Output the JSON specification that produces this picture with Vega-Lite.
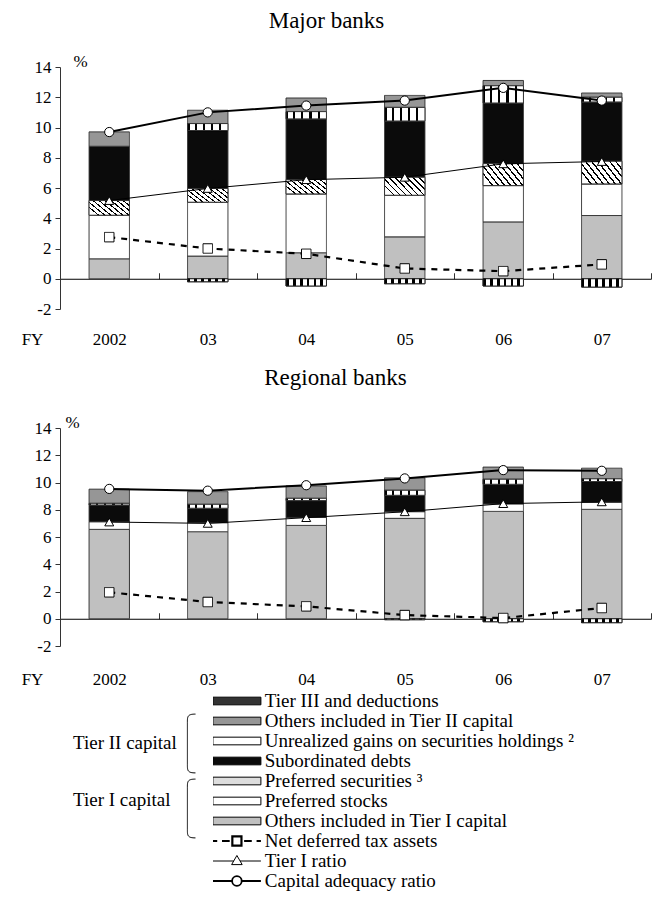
{
  "$schema": "https://vega.github.io/schema/vega-lite/v6.json",
  "padding": {"left": 21, "top": 10, "right": 0, "bottom": 0},
  "bounds": "flush",
  "spacing": 119,
  "config": {
    "font": "Liberation Serif",
    "view": {"stroke": null},
    "axis": {"labelFont": "Liberation Serif", "labelFontSize": 17, "labelColor": "#000", "titleFont": "Liberation Serif", "titleFontSize": 17, "titleFontWeight": "normal", "titleColor": "#000", "domainColor": "#333", "tickColor": "#333", "grid": false},
    "legend": {"labelFont": "Liberation Serif", "labelFontSize": 19, "labelColor": "#000", "labelLimit": 500},
    "title": {"font": "Liberation Serif", "fontSize": 23, "fontWeight": "normal", "color": "#000"}
  },
  "datasets": {
    "d": [
      {"b":"M","y":"2002","s":"Others included in Tier I capital","v":1.32,"k":1,"t":"Tier I capital"},
      {"b":"M","y":"2002","s":"Preferred stocks","v":2.88,"k":2,"t":"Tier I capital"},
      {"b":"M","y":"2002","s":"Preferred securities ³","v":0.97,"k":3,"t":"Tier I capital"},
      {"b":"M","y":"2002","s":"Subordinated debts","v":3.59,"k":4,"t":"Tier II capital"},
      {"b":"M","y":"2002","s":"Others included in Tier II capital","v":0.95,"k":6,"t":"Tier II capital"},
      {"b":"M","y":"2002","s":"Net deferred tax assets","v":2.75},
      {"b":"M","y":"2002","s":"Tier I ratio","v":5.17},
      {"b":"M","y":"2002","s":"Capital adequacy ratio","v":9.7},
      {"b":"M","y":"03","s":"Others included in Tier I capital","v":1.50,"k":1,"t":"Tier I capital"},
      {"b":"M","y":"03","s":"Preferred stocks","v":3.56,"k":2,"t":"Tier I capital"},
      {"b":"M","y":"03","s":"Preferred securities ³","v":0.91,"k":3,"t":"Tier I capital"},
      {"b":"M","y":"03","s":"Subordinated debts","v":3.83,"k":4,"t":"Tier II capital"},
      {"b":"M","y":"03","s":"Unrealized gains on securities holdings ²","v":0.46,"k":5,"t":"Tier II capital"},
      {"b":"M","y":"03","s":"Others included in Tier II capital","v":0.88,"k":6,"t":"Tier II capital"},
      {"b":"M","y":"03","s":"Tier III and deductions","v":-0.2,"k":7},
      {"b":"M","y":"03","s":"Net deferred tax assets","v":2.0},
      {"b":"M","y":"03","s":"Tier I ratio","v":5.97},
      {"b":"M","y":"03","s":"Capital adequacy ratio","v":11.0},
      {"b":"M","y":"04","s":"Others included in Tier I capital","v":1.72,"k":1,"t":"Tier I capital"},
      {"b":"M","y":"04","s":"Preferred stocks","v":3.89,"k":2,"t":"Tier I capital"},
      {"b":"M","y":"04","s":"Preferred securities ³","v":0.95,"k":3,"t":"Tier I capital"},
      {"b":"M","y":"04","s":"Subordinated debts","v":4.01,"k":4,"t":"Tier II capital"},
      {"b":"M","y":"04","s":"Unrealized gains on securities holdings ²","v":0.48,"k":5,"t":"Tier II capital"},
      {"b":"M","y":"04","s":"Others included in Tier II capital","v":0.90,"k":6,"t":"Tier II capital"},
      {"b":"M","y":"04","s":"Tier III and deductions","v":-0.48,"k":7},
      {"b":"M","y":"04","s":"Net deferred tax assets","v":1.65},
      {"b":"M","y":"04","s":"Tier I ratio","v":6.55},
      {"b":"M","y":"04","s":"Capital adequacy ratio","v":11.45},
      {"b":"M","y":"05","s":"Others included in Tier I capital","v":2.77,"k":1,"t":"Tier I capital"},
      {"b":"M","y":"05","s":"Preferred stocks","v":2.75,"k":2,"t":"Tier I capital"},
      {"b":"M","y":"05","s":"Preferred securities ³","v":1.19,"k":3,"t":"Tier I capital"},
      {"b":"M","y":"05","s":"Subordinated debts","v":3.72,"k":4,"t":"Tier II capital"},
      {"b":"M","y":"05","s":"Unrealized gains on securities holdings ²","v":0.90,"k":5,"t":"Tier II capital"},
      {"b":"M","y":"05","s":"Others included in Tier II capital","v":0.79,"k":6,"t":"Tier II capital"},
      {"b":"M","y":"05","s":"Tier III and deductions","v":-0.33,"k":7},
      {"b":"M","y":"05","s":"Net deferred tax assets","v":0.68},
      {"b":"M","y":"05","s":"Tier I ratio","v":6.71},
      {"b":"M","y":"05","s":"Capital adequacy ratio","v":11.78},
      {"b":"M","y":"06","s":"Others included in Tier I capital","v":3.76,"k":1,"t":"Tier I capital"},
      {"b":"M","y":"06","s":"Preferred stocks","v":2.40,"k":2,"t":"Tier I capital"},
      {"b":"M","y":"06","s":"Preferred securities ³","v":1.45,"k":3,"t":"Tier I capital"},
      {"b":"M","y":"06","s":"Subordinated debts","v":4.01,"k":4,"t":"Tier II capital"},
      {"b":"M","y":"06","s":"Unrealized gains on securities holdings ²","v":1.14,"k":5,"t":"Tier II capital"},
      {"b":"M","y":"06","s":"Others included in Tier II capital","v":0.35,"k":6,"t":"Tier II capital"},
      {"b":"M","y":"06","s":"Tier III and deductions","v":-0.48,"k":7},
      {"b":"M","y":"06","s":"Net deferred tax assets","v":0.5},
      {"b":"M","y":"06","s":"Tier I ratio","v":7.6},
      {"b":"M","y":"06","s":"Capital adequacy ratio","v":12.62},
      {"b":"M","y":"07","s":"Others included in Tier I capital","v":4.18,"k":1,"t":"Tier I capital"},
      {"b":"M","y":"07","s":"Preferred stocks","v":2.09,"k":2,"t":"Tier I capital"},
      {"b":"M","y":"07","s":"Preferred securities ³","v":1.50,"k":3,"t":"Tier I capital"},
      {"b":"M","y":"07","s":"Subordinated debts","v":3.92,"k":4,"t":"Tier II capital"},
      {"b":"M","y":"07","s":"Unrealized gains on securities holdings ²","v":0.31,"k":5,"t":"Tier II capital"},
      {"b":"M","y":"07","s":"Others included in Tier II capital","v":0.28,"k":6,"t":"Tier II capital"},
      {"b":"M","y":"07","s":"Tier III and deductions","v":-0.55,"k":7},
      {"b":"M","y":"07","s":"Net deferred tax assets","v":0.95},
      {"b":"M","y":"07","s":"Tier I ratio","v":7.75},
      {"b":"M","y":"07","s":"Capital adequacy ratio","v":11.78},
      {"b":"R","y":"2002","s":"Others included in Tier I capital","v":6.56,"k":1,"t":"Tier I capital"},
      {"b":"R","y":"2002","s":"Preferred stocks","v":0.56,"k":2,"t":"Tier I capital"},
      {"b":"R","y":"2002","s":"Subordinated debts","v":1.23,"k":4,"t":"Tier II capital"},
      {"b":"R","y":"2002","s":"Unrealized gains on securities holdings ²","v":0.12,"k":5,"t":"Tier II capital"},
      {"b":"R","y":"2002","s":"Others included in Tier II capital","v":1.04,"k":6,"t":"Tier II capital"},
      {"b":"R","y":"2002","s":"Net deferred tax assets","v":1.94},
      {"b":"R","y":"2002","s":"Tier I ratio","v":7.1},
      {"b":"R","y":"2002","s":"Capital adequacy ratio","v":9.53},
      {"b":"R","y":"03","s":"Others included in Tier I capital","v":6.39,"k":1,"t":"Tier I capital"},
      {"b":"R","y":"03","s":"Preferred stocks","v":0.66,"k":2,"t":"Tier I capital"},
      {"b":"R","y":"03","s":"Subordinated debts","v":1.06,"k":4,"t":"Tier II capital"},
      {"b":"R","y":"03","s":"Unrealized gains on securities holdings ²","v":0.29,"k":5,"t":"Tier II capital"},
      {"b":"R","y":"03","s":"Others included in Tier II capital","v":0.93,"k":6,"t":"Tier II capital"},
      {"b":"R","y":"03","s":"Net deferred tax assets","v":1.23},
      {"b":"R","y":"03","s":"Tier I ratio","v":7.0},
      {"b":"R","y":"03","s":"Capital adequacy ratio","v":9.4},
      {"b":"R","y":"04","s":"Others included in Tier I capital","v":6.85,"k":1,"t":"Tier I capital"},
      {"b":"R","y":"04","s":"Preferred stocks","v":0.59,"k":2,"t":"Tier I capital"},
      {"b":"R","y":"04","s":"Subordinated debts","v":1.23,"k":4,"t":"Tier II capital"},
      {"b":"R","y":"04","s":"Unrealized gains on securities holdings ²","v":0.17,"k":5,"t":"Tier II capital"},
      {"b":"R","y":"04","s":"Others included in Tier II capital","v":0.91,"k":6,"t":"Tier II capital"},
      {"b":"R","y":"04","s":"Net deferred tax assets","v":0.91},
      {"b":"R","y":"04","s":"Tier I ratio","v":7.42},
      {"b":"R","y":"04","s":"Capital adequacy ratio","v":9.8},
      {"b":"R","y":"05","s":"Others included in Tier I capital","v":7.37,"k":1,"t":"Tier I capital"},
      {"b":"R","y":"05","s":"Preferred stocks","v":0.49,"k":2,"t":"Tier I capital"},
      {"b":"R","y":"05","s":"Subordinated debts","v":1.20,"k":4,"t":"Tier II capital"},
      {"b":"R","y":"05","s":"Unrealized gains on securities holdings ²","v":0.37,"k":5,"t":"Tier II capital"},
      {"b":"R","y":"05","s":"Others included in Tier II capital","v":0.91,"k":6,"t":"Tier II capital"},
      {"b":"R","y":"05","s":"Tier III and deductions","v":-0.07,"k":7},
      {"b":"R","y":"05","s":"Net deferred tax assets","v":0.27},
      {"b":"R","y":"05","s":"Tier I ratio","v":7.85},
      {"b":"R","y":"05","s":"Capital adequacy ratio","v":10.3},
      {"b":"R","y":"06","s":"Others included in Tier I capital","v":7.88,"k":1,"t":"Tier I capital"},
      {"b":"R","y":"06","s":"Preferred stocks","v":0.55,"k":2,"t":"Tier I capital"},
      {"b":"R","y":"06","s":"Subordinated debts","v":1.44,"k":4,"t":"Tier II capital"},
      {"b":"R","y":"06","s":"Unrealized gains on securities holdings ²","v":0.37,"k":5,"t":"Tier II capital"},
      {"b":"R","y":"06","s":"Others included in Tier II capital","v":0.89,"k":6,"t":"Tier II capital"},
      {"b":"R","y":"06","s":"Tier III and deductions","v":-0.22,"k":7},
      {"b":"R","y":"06","s":"Net deferred tax assets","v":0.05},
      {"b":"R","y":"06","s":"Tier I ratio","v":8.45},
      {"b":"R","y":"06","s":"Capital adequacy ratio","v":10.91},
      {"b":"R","y":"07","s":"Others included in Tier I capital","v":8.03,"k":1,"t":"Tier I capital"},
      {"b":"R","y":"07","s":"Preferred stocks","v":0.52,"k":2,"t":"Tier I capital"},
      {"b":"R","y":"07","s":"Subordinated debts","v":1.52,"k":4,"t":"Tier II capital"},
      {"b":"R","y":"07","s":"Unrealized gains on securities holdings ²","v":0.20,"k":5,"t":"Tier II capital"},
      {"b":"R","y":"07","s":"Others included in Tier II capital","v":0.78,"k":6,"t":"Tier II capital"},
      {"b":"R","y":"07","s":"Tier III and deductions","v":-0.29,"k":7},
      {"b":"R","y":"07","s":"Net deferred tax assets","v":0.79},
      {"b":"R","y":"07","s":"Tier I ratio","v":8.58},
      {"b":"R","y":"07","s":"Capital adequacy ratio","v":10.86}
    ]
  },
  "vconcat": [
    {
      "title": {"text": "Major banks", "frame": "group", "offset": 1, "dx": -29, "baseline": "alphabetic", "anchor": "middle"},
      "width": 591,
      "height": 242,
      "data": {"name": "d"},
      "transform": [{"filter": "datum.b === 'M'"}],
      "encoding": {
        "x": {"field": "y", "type": "nominal", "sort": ["2002","03","04","05","06","07"],
              "scale": {"paddingInner": 0, "paddingOuter": 0},
              "axis": {"title": "FY", "offset": -30.25, "tickSize": -6, "tickBand": "extent", "labelPadding": 67, "labelBaseline": "middle", "labelAngle": 0, "domainColor": "#000", "tickColor": "#333", "titleX": -28, "titleY": 61, "titleAngle": 0, "titleAlign": "center", "titleBaseline": "middle"}},
        "y": {"field": "v", "type": "quantitative",
              "scale": {"domain": [-2, 14], "nice": false, "zero": false},
              "axis": {"values": [-2,0,2,4,6,8,10,12,14], "labelExpr": "replace(datum.label, '−', '-')", "tickSize": 5, "labelPadding": 4, "title": "%", "titleAngle": 0, "titleX": 20, "titleY": -1, "titleAlign": "center", "titleBaseline": "alphabetic"}}
      },
      "layer": [
        {
          "transform": [{"filter": "isValid(datum.k)"}],
          "mark": {"type": "bar", "width": {"band": 0.41}, "stroke": "#333", "strokeWidth": 1},
          "encoding": {
            "fill": {"field": "s", "type": "nominal",
              "scale": {
                "domain": ["Tier III and deductions","Others included in Tier II capital","Unrealized gains on securities holdings ²","Subordinated debts","Preferred securities ³","Preferred stocks","Others included in Tier I capital","Net deferred tax assets","Tier I ratio","Capital adequacy ratio"],
                "range": ["#333333","#969696","#ffffff","#0b0b0b","#dddddd","#ffffff","#c0c0c0","#ffffff","#ffffff","#ffffff"]
              },
              "legend": {
                "orient": "none", "legendX": 153, "legendY": 624.4, "direction": "vertical", "title": null, "padding": 0,
                "symbolSize": 2304, "symbolType": "M-1,-0.16H1V0.16H-1Z", "symbolStrokeColor": "#000", "symbolStrokeWidth": 1,
                "clipHeight": 19.2, "rowPadding": -1.65, "labelOffset": 18.4, "symbolOffset": 14.4,
                "encode": {"symbols": {"update": {
                  "shape": {"signal": "datum.value === 'Net deferred tax assets' ? 'M-1,0H-0.82M-0.62,0H-0.3M0.3,0H0.62M0.82,0H1M-0.19,-0.19H0.19V0.19H-0.19Z' : datum.value === 'Tier I ratio' ? 'M-1,0H-0.13M0.13,0H1M-0.22,0.15L0,-0.23L0.22,0.15Z' : datum.value === 'Capital adequacy ratio' ? 'M-1,0H-0.2M0.2,0H1M-0.2,0A0.2,0.2 0 1,1 0.2,0A0.2,0.2 0 1,1 -0.2,0Z' : 'M-1,-0.16H1V0.16H-1Z'"},
                  "strokeWidth": {"signal": "datum.value === 'Net deferred tax assets' ? 2.2 : datum.value === 'Capital adequacy ratio' ? 1.8 : 1"},
                  "stroke": {"value": "#000"},
                  "opacity": {"value": 1}
                }}}
              }
            },
            "strokeDash": {"field": "t", "type": "nominal",
              "scale": {"domain": ["Tier II capital", "Tier I capital"], "range": [[1, 0], [1, 0]]},
              "legend": {
                "orient": "none", "legendX": 96, "legendY": 646, "direction": "vertical", "title": null, "padding": 0,
                "symbolSize": 3600, "symbolType": "M0.3,-0.98C0.03,-0.98 0.03,-0.9 0.03,-0.7V0.7C0.03,0.9 0.03,0.98 0.3,0.98",
                "symbolFillColor": "transparent", "symbolStrokeColor": "#000", "symbolStrokeWidth": 1,
                "rowPadding": 2, "labelOffset": -144, "labelAlign": "left",
                "encode": {
                  "symbols": {"update": {"fill": {"value": "transparent"}, "stroke": {"value": "#000"}, "opacity": {"value": 1}}},
                  "labels": {"update": {"dy": {"signal": "datum.index === 1 ? -9 : -1"}}}
                }
              }
            },
            "order": {"field": "k", "type": "quantitative"}
          }
        },
        {
          "transform": [{"filter": "isValid(datum.k)"}, {"stack": "v", "groupby": ["y"], "sort": [{"field": "k", "order": "ascending"}], "as": ["v0", "v1"]}, {"filter": "datum.s === 'Tier III and deductions'"}],
          "mark": {"type": "bar", "width": {"band": 0.41}, "stroke": "#222", "strokeWidth": 1, "fill": {"gradient":"linear","x1":0,"y1":0,"x2":1,"y2":0,"stops":[{"offset":0,"color":"#000"},{"offset":0.07,"color":"#000"},{"offset":0.07,"color":"#fff"},{"offset":0.17,"color":"#fff"},{"offset":0.17,"color":"#000"},{"offset":0.24,"color":"#000"},{"offset":0.24,"color":"#fff"},{"offset":0.34,"color":"#fff"},{"offset":0.34,"color":"#000"},{"offset":0.41,"color":"#000"},{"offset":0.41,"color":"#fff"},{"offset":0.51,"color":"#fff"},{"offset":0.51,"color":"#000"},{"offset":0.58,"color":"#000"},{"offset":0.58,"color":"#fff"},{"offset":0.68,"color":"#fff"},{"offset":0.68,"color":"#000"},{"offset":0.75,"color":"#000"},{"offset":0.75,"color":"#fff"},{"offset":0.85,"color":"#fff"},{"offset":0.85,"color":"#000"},{"offset":0.92,"color":"#000"},{"offset":0.92,"color":"#fff"},{"offset":1,"color":"#fff"}]}},
          "encoding": {"y": {"field": "v1", "type": "quantitative"}, "y2": {"field": "v0"}}
        },
        {
          "transform": [{"filter": "isValid(datum.k)"}, {"stack": "v", "groupby": ["y"], "sort": [{"field": "k", "order": "ascending"}], "as": ["v0", "v1"]}, {"filter": "datum.s === 'Unrealized gains on securities holdings ²'"}],
          "mark": {"type": "bar", "width": {"band": 0.41}, "stroke": "#333", "strokeWidth": 1, "fill": {"gradient":"linear","x1":0,"y1":0,"x2":1,"y2":0,"stops":[{"offset":0,"color":"#000"},{"offset":0.05,"color":"#000"},{"offset":0.05,"color":"#fff"},{"offset":0.18,"color":"#fff"},{"offset":0.18,"color":"#000"},{"offset":0.23,"color":"#000"},{"offset":0.23,"color":"#fff"},{"offset":0.38,"color":"#fff"},{"offset":0.38,"color":"#000"},{"offset":0.43,"color":"#000"},{"offset":0.43,"color":"#fff"},{"offset":0.58,"color":"#fff"},{"offset":0.58,"color":"#000"},{"offset":0.63,"color":"#000"},{"offset":0.63,"color":"#fff"},{"offset":0.78,"color":"#fff"},{"offset":0.78,"color":"#000"},{"offset":0.83,"color":"#000"},{"offset":0.83,"color":"#fff"},{"offset":1,"color":"#fff"}]}},
          "encoding": {"y": {"field": "v1", "type": "quantitative"}, "y2": {"field": "v0"}}
        },
        {
          "transform": [{"filter": "isValid(datum.k)"}, {"stack": "v", "groupby": ["y"], "sort": [{"field": "k", "order": "ascending"}], "as": ["v0", "v1"]}, {"filter": "datum.s === 'Preferred securities ³'"}],
          "mark": {"type": "bar", "width": {"band": 0.41}, "stroke": "#333", "strokeWidth": 1, "fill": {"gradient":"linear","x1":0,"y1":0.72,"x2":1,"y2":0.28,"stops":[{"offset":0,"color":"#fff"},{"offset":0.08,"color":"#fff"},{"offset":0.08,"color":"#000"},{"offset":0.115,"color":"#000"},{"offset":0.115,"color":"#fff"},{"offset":0.205,"color":"#fff"},{"offset":0.205,"color":"#000"},{"offset":0.24,"color":"#000"},{"offset":0.24,"color":"#fff"},{"offset":0.33,"color":"#fff"},{"offset":0.33,"color":"#000"},{"offset":0.365,"color":"#000"},{"offset":0.365,"color":"#fff"},{"offset":0.455,"color":"#fff"},{"offset":0.455,"color":"#000"},{"offset":0.49,"color":"#000"},{"offset":0.49,"color":"#fff"},{"offset":0.58,"color":"#fff"},{"offset":0.58,"color":"#000"},{"offset":0.615,"color":"#000"},{"offset":0.615,"color":"#fff"},{"offset":0.705,"color":"#fff"},{"offset":0.705,"color":"#000"},{"offset":0.74,"color":"#000"},{"offset":0.74,"color":"#fff"},{"offset":0.83,"color":"#fff"},{"offset":0.83,"color":"#000"},{"offset":0.865,"color":"#000"},{"offset":0.865,"color":"#fff"},{"offset":0.955,"color":"#fff"},{"offset":0.955,"color":"#000"},{"offset":0.99,"color":"#000"},{"offset":0.99,"color":"#fff"},{"offset":1,"color":"#fff"}]}},
          "encoding": {"y": {"field": "v1", "type": "quantitative"}, "y2": {"field": "v0"}}
        },
        {
          "transform": [{"filter": "datum.s === 'Tier I ratio'"}],
          "mark": {"type": "line", "color": "#000", "strokeWidth": 1, "point": {"shape": "triangle-up", "filled": true, "fill": "#fff", "stroke": "#000", "strokeWidth": 1, "size": 80, "opacity": 1}}
        },
        {
          "transform": [{"filter": "datum.s === 'Net deferred tax assets'"}],
          "mark": {"type": "line", "color": "#000", "strokeWidth": 2.2, "strokeDash": [6, 6], "point": {"shape": "square", "filled": true, "fill": "#fff", "stroke": "#000", "strokeWidth": 1, "strokeDash": [1, 0], "size": 90, "opacity": 1}}
        },
        {
          "transform": [{"filter": "datum.s === 'Capital adequacy ratio'"}],
          "mark": {"type": "line", "color": "#000", "strokeWidth": 2, "point": {"shape": "circle", "filled": true, "fill": "#fff", "stroke": "#000", "strokeWidth": 1, "size": 85, "opacity": 1}}
        }
      ]
    },
    {
      "title": {"text": "Regional banks", "frame": "group", "offset": 5, "dx": -20, "baseline": "alphabetic", "anchor": "middle"},
      "width": 591,
      "height": 218,
      "data": {"name": "d"},
      "transform": [{"filter": "datum.b === 'R'"}],
      "encoding": {
        "x": {"field": "y", "type": "nominal", "sort": ["2002","03","04","05","06","07"],
              "scale": {"paddingInner": 0, "paddingOuter": 0},
              "axis": {"title": "FY", "offset": -27.25, "tickSize": -6, "tickBand": "extent", "labelPadding": 67, "labelBaseline": "middle", "labelAngle": 0, "domainColor": "#000", "tickColor": "#333", "titleX": -28, "titleY": 61, "titleAngle": 0, "titleAlign": "center", "titleBaseline": "middle"}},
        "y": {"field": "v", "type": "quantitative",
              "scale": {"domain": [-2, 14], "nice": false, "zero": false},
              "axis": {"values": [-2,0,2,4,6,8,10,12,14], "labelExpr": "replace(datum.label, '−', '-')", "tickSize": 5, "labelPadding": 4, "title": "%", "titleAngle": 0, "titleX": 12, "titleY": -1, "titleAlign": "center", "titleBaseline": "alphabetic"}}
      },
      "layer": [
        {
          "transform": [{"filter": "isValid(datum.k)"}],
          "mark": {"type": "bar", "width": {"band": 0.41}, "stroke": "#333", "strokeWidth": 1},
          "encoding": {
            "fill": {"field": "s", "type": "nominal"},
            "strokeDash": {"field": "t", "type": "nominal"},
            "order": {"field": "k", "type": "quantitative"}
          }
        },
        {
          "transform": [{"filter": "isValid(datum.k)"}, {"stack": "v", "groupby": ["y"], "sort": [{"field": "k", "order": "ascending"}], "as": ["v0", "v1"]}, {"filter": "datum.s === 'Tier III and deductions'"}],
          "mark": {"type": "bar", "width": {"band": 0.41}, "stroke": "#222", "strokeWidth": 1, "fill": {"gradient":"linear","x1":0,"y1":0,"x2":1,"y2":0,"stops":[{"offset":0,"color":"#000"},{"offset":0.07,"color":"#000"},{"offset":0.07,"color":"#fff"},{"offset":0.17,"color":"#fff"},{"offset":0.17,"color":"#000"},{"offset":0.24,"color":"#000"},{"offset":0.24,"color":"#fff"},{"offset":0.34,"color":"#fff"},{"offset":0.34,"color":"#000"},{"offset":0.41,"color":"#000"},{"offset":0.41,"color":"#fff"},{"offset":0.51,"color":"#fff"},{"offset":0.51,"color":"#000"},{"offset":0.58,"color":"#000"},{"offset":0.58,"color":"#fff"},{"offset":0.68,"color":"#fff"},{"offset":0.68,"color":"#000"},{"offset":0.75,"color":"#000"},{"offset":0.75,"color":"#fff"},{"offset":0.85,"color":"#fff"},{"offset":0.85,"color":"#000"},{"offset":0.92,"color":"#000"},{"offset":0.92,"color":"#fff"},{"offset":1,"color":"#fff"}]}},
          "encoding": {"y": {"field": "v1", "type": "quantitative"}, "y2": {"field": "v0"}}
        },
        {
          "transform": [{"filter": "isValid(datum.k)"}, {"stack": "v", "groupby": ["y"], "sort": [{"field": "k", "order": "ascending"}], "as": ["v0", "v1"]}, {"filter": "datum.s === 'Unrealized gains on securities holdings ²'"}],
          "mark": {"type": "bar", "width": {"band": 0.41}, "stroke": "#333", "strokeWidth": 1, "fill": {"gradient":"linear","x1":0,"y1":0,"x2":1,"y2":0,"stops":[{"offset":0,"color":"#000"},{"offset":0.05,"color":"#000"},{"offset":0.05,"color":"#fff"},{"offset":0.18,"color":"#fff"},{"offset":0.18,"color":"#000"},{"offset":0.23,"color":"#000"},{"offset":0.23,"color":"#fff"},{"offset":0.38,"color":"#fff"},{"offset":0.38,"color":"#000"},{"offset":0.43,"color":"#000"},{"offset":0.43,"color":"#fff"},{"offset":0.58,"color":"#fff"},{"offset":0.58,"color":"#000"},{"offset":0.63,"color":"#000"},{"offset":0.63,"color":"#fff"},{"offset":0.78,"color":"#fff"},{"offset":0.78,"color":"#000"},{"offset":0.83,"color":"#000"},{"offset":0.83,"color":"#fff"},{"offset":1,"color":"#fff"}]}},
          "encoding": {"y": {"field": "v1", "type": "quantitative"}, "y2": {"field": "v0"}}
        },
        {
          "transform": [{"filter": "datum.s === 'Tier I ratio'"}],
          "mark": {"type": "line", "color": "#000", "strokeWidth": 1, "point": {"shape": "triangle-up", "filled": true, "fill": "#fff", "stroke": "#000", "strokeWidth": 1, "size": 80, "opacity": 1}}
        },
        {
          "transform": [{"filter": "datum.s === 'Net deferred tax assets'"}],
          "mark": {"type": "line", "color": "#000", "strokeWidth": 2.2, "strokeDash": [6, 6], "point": {"shape": "square", "filled": true, "fill": "#fff", "stroke": "#000", "strokeWidth": 1, "strokeDash": [1, 0], "size": 90, "opacity": 1}}
        },
        {
          "transform": [{"filter": "datum.s === 'Capital adequacy ratio'"}],
          "mark": {"type": "line", "color": "#000", "strokeWidth": 2, "point": {"shape": "circle", "filled": true, "fill": "#fff", "stroke": "#000", "strokeWidth": 1, "size": 85, "opacity": 1}}
        }
      ]
    }
  ]
}
